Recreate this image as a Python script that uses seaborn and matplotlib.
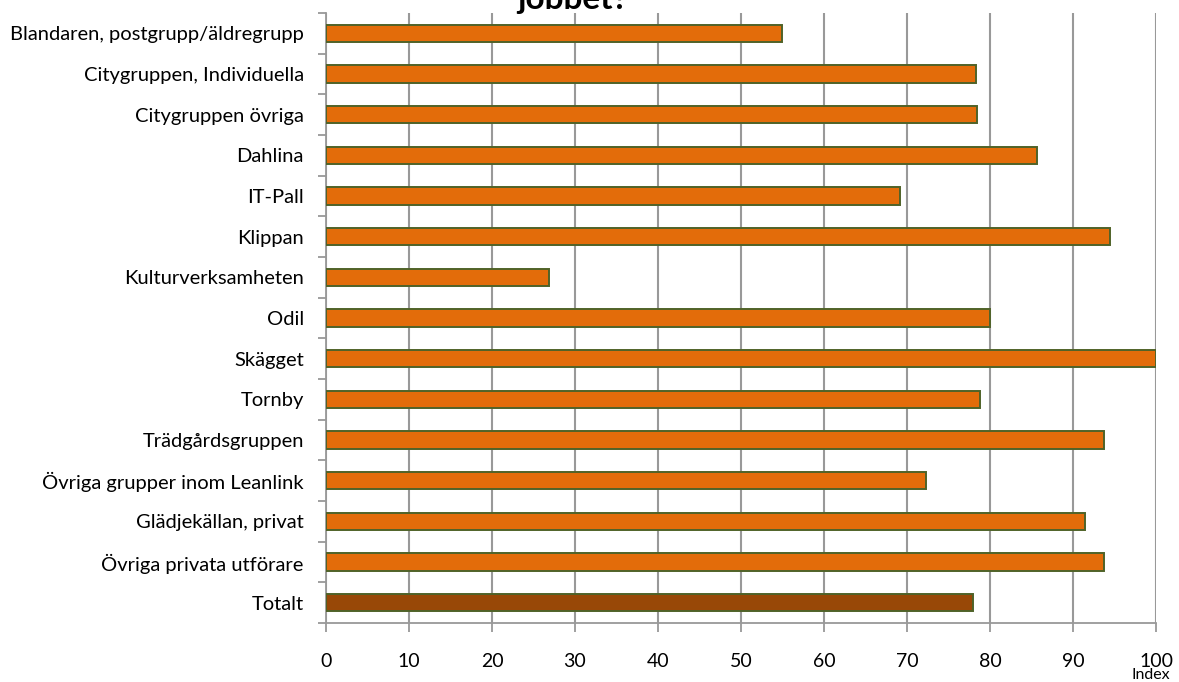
import matplotlib
matplotlib.use("Agg")
import matplotlib.pyplot as plt
import seaborn as sns
import numpy as np

categories = [
    "Blandaren, postgrupp/äldregrupp",
    "Citygruppen, Individuella",
    "Citygruppen övriga",
    "Dahlina",
    "IT-Pall",
    "Klippan",
    "Kulturverksamheten",
    "Odil",
    "Skägget",
    "Tornby",
    "Trädgårdsgruppen",
    "Övriga grupper inom Leanlink",
    "Glädjekällan, privat",
    "Övriga privata utförare",
    "Totalt",
]
values = [55.0, 78.3, 78.4, 85.7, 69.2, 94.5, 26.9, 80.0, 100.0, 78.8, 93.7, 72.3, 91.5, 93.7, 77.9]
x_ticks = [0, 10, 20, 30, 40, 50, 60, 70, 80, 90, 100]

sns.set_theme(style="white")
plt.rcParams['font.family'] = ['Lato', 'DejaVu Sans']

orange = "#E36C0A"
brown = "#984807"
colors = [brown if c == "Totalt" else orange for c in categories]

fig = plt.figure(figsize=(11.79, 6.82), dpi=100)
ax = fig.add_axes([326/1179, 1-623/682, (1156-326)/1179, (623-13)/682])

sns.barplot(x=values, y=categories, hue=categories, palette=colors, legend=False,
            saturation=1, width=0.42, edgecolor="#4F6228", linewidth=1.4, ax=ax, zorder=3)

ax.set_xlim(0, 100)
ax.set_ylim(len(categories) - 0.5, -0.5)
ax.set_xticks(x_ticks)
ax.set_xticklabels([str(t) for t in x_ticks])
ax.xaxis.grid(True, color="#999999", linewidth=1.5, zorder=0)
ax.yaxis.grid(False)

for s in ["top", "right"]:
    ax.spines[s].set_visible(False)
for s in ["left", "bottom"]:
    ax.spines[s].set_color("#999999")
    ax.spines[s].set_linewidth(1.3)

ax.set_yticks(np.arange(-0.5, len(categories), 1.0), minor=True)
ax.tick_params(axis="y", which="major", length=0, pad=16, labelsize=14.5, labelcolor="black")
ax.tick_params(axis="y", which="minor", length=6, width=1.3, color="#999999", left=True)
ax.tick_params(axis="x", which="major", length=6.5, width=1.3, color="#999999", bottom=True,
               pad=15, labelsize=14, labelcolor="black")
ax.set_xlabel("")
ax.set_ylabel("")

fig.text(573/1179, 1-9/682, "jobbet?", ha="center", va="baseline",
         fontsize=24, fontweight="bold", color="black")
fig.text(1151/1179, 1-668/682, "Index", ha="center", va="top", fontsize=11.5, color="black")

fig.savefig("out.png", dpi=100)
